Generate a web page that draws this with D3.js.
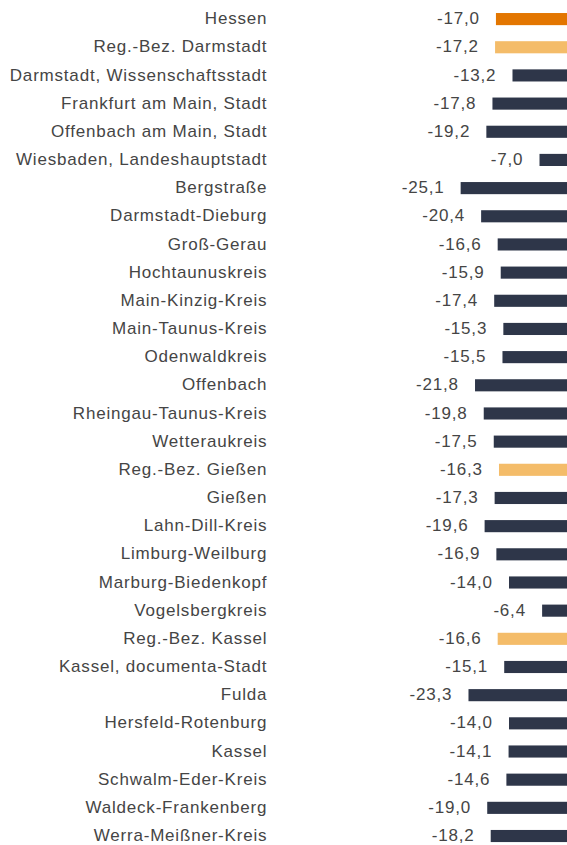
<!DOCTYPE html>
<html>
<head>
<meta charset="utf-8">
<script src="https://cdn.jsdelivr.net/npm/d3@7"></script>
<style>
  html, body { margin: 0; padding: 0; background: #fff; }
  svg { display: block; }
  text { font-family: "Liberation Sans", Arial, sans-serif; fill: #454545; letter-spacing: 0.8px; }
</style>
</head>
<body>
<svg id="chart" width="567" height="845"></svg>
<script>
const regions = [
  "Hessen", "Reg.-Bez. Darmstadt", "Darmstadt, Wissenschaftsstadt",
  "Frankfurt am Main, Stadt", "Offenbach am Main, Stadt", "Wiesbaden, Landeshauptstadt",
  "Bergstraße", "Darmstadt-Dieburg", "Groß-Gerau", "Hochtaunuskreis",
  "Main-Kinzig-Kreis", "Main-Taunus-Kreis", "Odenwaldkreis", "Offenbach",
  "Rheingau-Taunus-Kreis", "Wetteraukreis", "Reg.-Bez. Gießen", "Gießen",
  "Lahn-Dill-Kreis", "Limburg-Weilburg", "Marburg-Biedenkopf", "Vogelsbergkreis",
  "Reg.-Bez. Kassel", "Kassel, documenta-Stadt", "Fulda", "Hersfeld-Rotenburg",
  "Kassel", "Schwalm-Eder-Kreis", "Waldeck-Frankenberg", "Werra-Meißner-Kreis"
];
const changes = [
  -17.0, -17.2, -13.2, -17.8, -19.2, -7.0, -25.1, -20.4, -16.6, -15.9,
  -17.4, -15.3, -15.5, -21.8, -19.8, -17.5, -16.3, -17.3, -19.6, -16.9,
  -14.0, -6.4, -16.6, -15.1, -23.3, -14.0, -14.1, -14.6, -19.0, -18.2
];
// level: 0 = state, 1 = administrative region, 2 = district
const levels = [
  0, 1, 2, 2, 2, 2, 2, 2, 2, 2, 2, 2, 2, 2, 2, 2, 1, 2, 2, 2, 2, 2, 1, 2, 2, 2, 2, 2, 2, 2
];
const levelColors = ["#E37600", "#F4BC69", "#2E3649"];

const data = regions.map((name, i) => ({ name, value: changes[i], level: levels[i] }));

const svg = d3.select("#chart");
const marginTop = 5, rowStep = 28.17;

const y = d3.scaleBand()
  .domain(regions)
  .range([marginTop, marginTop + rowStep * regions.length])
  .paddingInner(0.57)
  .paddingOuter(0.285);

const x = d3.scaleLinear()
  .domain([-30, 0])
  .range([439.3, 570]);

const fmt = v => d3.format(".1f")(v).replace("−", "-").replace(".", ",");

const rows = svg.selectAll("g.row")
  .data(data)
  .join("g")
  .attr("class", "row");

rows.append("text")
  .attr("x", 267.3)
  .attr("y", d => y(d.name) + y.bandwidth() / 2)
  .attr("dy", "0.3em")
  .attr("text-anchor", "end")
  .attr("font-size", 17)
  .text(d => d.name);

rows.append("rect")
  .attr("x", d => x(d.value))
  .attr("y", d => y(d.name))
  .attr("width", d => x(0) - x(d.value))
  .attr("height", y.bandwidth())
  .attr("fill", d => levelColors[d.level]);

rows.append("text")
  .attr("x", d => x(d.value) - 16.2)
  .attr("y", d => y(d.name) + y.bandwidth() / 2)
  .attr("dy", "0.3em")
  .attr("text-anchor", "end")
  .attr("font-size", 17)
  .text(d => fmt(d.value));
</script>
</body>
</html>
